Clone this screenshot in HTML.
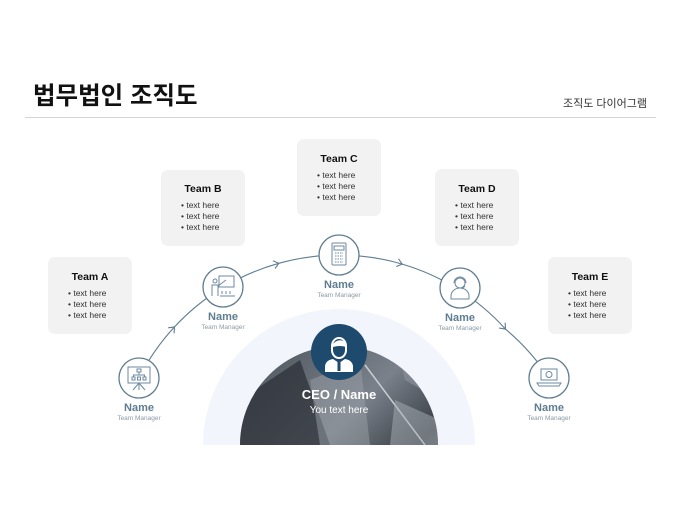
<!DOCTYPE html>
<html><head><meta charset="utf-8"><style>
html,body{margin:0;padding:0;background:#fff;width:680px;height:510px;overflow:hidden;}
svg{display:block;font-family:"Liberation Sans","Noto Sans CJK KR",sans-serif;}
</style></head><body>
<svg width="680" height="510" viewBox="0 0 680 510" xmlns="http://www.w3.org/2000/svg">
<defs>
<marker id="ar" markerWidth="10" markerHeight="10" refX="6" refY="5" orient="auto" markerUnits="userSpaceOnUse">
<path d="M1,1 L6,5 L1,9" fill="none" stroke="#5f7d91" stroke-width="1.1"/>
</marker>
<clipPath id="cb"><rect x="0" y="0" width="680" height="445"/></clipPath>
<clipPath id="pc"><circle cx="339" cy="445" r="99"/></clipPath>
<linearGradient id="ph" x1="0" y1="0" x2="1" y2="1">
<stop offset="0" stop-color="#4a5058"/><stop offset="0.45" stop-color="#7a818a"/><stop offset="0.7" stop-color="#3a3f46"/><stop offset="1" stop-color="#8a9098"/>
</linearGradient>
</defs>
<text x="33" y="104" font-size="24.5" font-weight="bold" fill="#111">법무법인 조직도</text>
<text x="647" y="107" font-size="11" fill="#333" text-anchor="end">조직도 다이어그램</text>
<rect x="25" y="117" width="631" height="1" fill="#d4d4d4"/>

<g clip-path="url(#cb)">
<circle cx="339" cy="445" r="136" fill="#f2f5fb"/>
<circle cx="339" cy="445" r="99" fill="url(#ph)"/>
<g clip-path="url(#pc)">
<path d="M240 400 L300 360 L330 445 L240 445 Z" fill="#2a2e34" opacity="0.7"/>
<path d="M310 380 L360 360 L370 445 L320 445 Z" fill="#9aa0a8" opacity="0.5"/>
<path d="M365 365 L425 445" stroke="#c9ced4" stroke-width="1.5"/>
<path d="M395 400 L440 420 L440 445 L390 445 Z" fill="#aab0b7" opacity="0.5"/>
<path d="M400 360 L440 380 L440 400 L405 380 Z" fill="#8d949c" opacity="0.6"/>
</g>
</g>

<path d="M139,378 A224,224 0 0 1 174.5,326.9" fill="none" stroke="#5f7d91" stroke-width="1.1" marker-end="url(#ar)"/>
<path d="M174.5,326.9 A224,224 0 0 1 278.8,263.3" fill="none" stroke="#5f7d91" stroke-width="1.1" marker-end="url(#ar)"/>
<path d="M278.8,263.3 A224,224 0 0 1 402.2,264.1" fill="none" stroke="#5f7d91" stroke-width="1.1" marker-end="url(#ar)"/>
<path d="M402.2,264.1 A224,224 0 0 1 505.5,329.1" fill="none" stroke="#5f7d91" stroke-width="1.1" marker-end="url(#ar)"/>
<path d="M505.5,329.1 A224,224 0 0 1 549,378" fill="none" stroke="#5f7d91" stroke-width="1.1"/>

<g fill="#f2f2f2">
<rect x="48" y="257" width="84" height="77" rx="7"/>
<rect x="161" y="170" width="84" height="76" rx="7"/>
<rect x="297" y="139" width="84" height="77" rx="7"/>
<rect x="435" y="169" width="84" height="77" rx="7"/>
<rect x="548" y="257" width="84" height="77" rx="7"/>
</g>
<g font-size="10.5" font-weight="bold" fill="#111" text-anchor="middle">
<text x="90" y="280">Team A</text>
<text x="203" y="192">Team B</text>
<text x="339" y="162">Team C</text>
<text x="477" y="192">Team D</text>
<text x="590" y="280">Team E</text>
</g>
<g font-size="8.5" fill="#333">
<text x="68" y="296">•  text here</text><text x="68" y="307">•  text here</text><text x="68" y="318">•  text here</text>
<text x="181" y="208">•  text here</text><text x="181" y="219">•  text here</text><text x="181" y="230">•  text here</text>
<text x="317" y="178">•  text here</text><text x="317" y="189">•  text here</text><text x="317" y="200">•  text here</text>
<text x="455" y="208">•  text here</text><text x="455" y="219">•  text here</text><text x="455" y="230">•  text here</text>
<text x="568" y="296">•  text here</text><text x="568" y="307">•  text here</text><text x="568" y="318">•  text here</text>
</g>

<g fill="#fff" stroke="#5f7d91" stroke-width="1.3">
<circle cx="139" cy="378" r="20"/>
<circle cx="223" cy="287" r="20"/>
<circle cx="339" cy="255" r="20"/>
<circle cx="460" cy="288" r="20"/>
<circle cx="549" cy="378" r="20"/>
</g>
<g fill="none" stroke="#6b8aa0" stroke-width="1">
<rect x="128" y="367" width="22" height="16"/><line x1="139" y1="383" x2="133" y2="390"/><line x1="139" y1="383" x2="145" y2="390"/><line x1="139" y1="383" x2="139" y2="390"/>
<rect x="137" y="369" width="4" height="3"/><rect x="132" y="377" width="3" height="3"/><rect x="137.5" y="377" width="3" height="3"/><rect x="143" y="377" width="3" height="3"/><path d="M139 372 V375 M133.5 377 V375 H144.5 V377"/>
<rect x="219" y="276" width="15" height="11"/><circle cx="215" cy="281" r="2"/><path d="M212 296 V285 H218 V296 M218 286 L226 280"/><path d="M220 296 h15 M222 294 v-3 M226 294 v-3 M230 294 v-3"/>
<rect x="332" y="243" width="14" height="22" rx="1"/><rect x="334" y="246" width="10" height="4"/><path d="M335 253h8M335 256h8M335 259h8M335 262h8" stroke-dasharray="1.5 1"/>
<circle cx="460" cy="283" r="5"/><path d="M451 299 V296 A9 8 0 0 1 469 296 V299 Z"/><path d="M454 283 A6 6 0 0 1 466 283 M465 286 L462 289"/>
<rect x="541" y="369" width="16" height="11"/><path d="M537 383 H561 L559 386 H539 Z"/><circle cx="549" cy="374.5" r="3"/>
</g>

<circle cx="339" cy="352" r="28" fill="#1e4a6e"/>
<g fill="#fff">
<path d="M332 346 A7 8 0 0 1 346 346 L346 350 A7 8 0 0 1 332 350 Z" fill="none" stroke="#fff" stroke-width="2"/>
<path d="M333 344 Q339 337 346 343 L346 347 Q340 345 333 347 Z"/>
<path d="M325 372 V366 Q326 360 333 359 L339 363 L345 359 Q352 360 353 366 V372 Z"/>
<rect x="337.5" y="362" width="3" height="9" fill="#1e4a6e"/>
</g>

<g text-anchor="middle">
<text x="339" y="399" font-size="13" font-weight="bold" fill="#fff">CEO / Name</text>
<text x="339" y="413" font-size="10" fill="#fff">You text here</text>
</g>
<g text-anchor="middle" fill="#5f7d91">
<text x="139" y="411" font-size="11" font-weight="bold">Name</text><text x="139" y="420" font-size="6.5" fill="#8a9aa6">Team Manager</text>
<text x="223" y="320" font-size="11" font-weight="bold">Name</text><text x="223" y="329" font-size="6.5" fill="#8a9aa6">Team Manager</text>
<text x="339" y="288" font-size="11" font-weight="bold">Name</text><text x="339" y="297" font-size="6.5" fill="#8a9aa6">Team Manager</text>
<text x="460" y="321" font-size="11" font-weight="bold">Name</text><text x="460" y="330" font-size="6.5" fill="#8a9aa6">Team Manager</text>
<text x="549" y="411" font-size="11" font-weight="bold">Name</text><text x="549" y="420" font-size="6.5" fill="#8a9aa6">Team Manager</text>
</g>
</svg>
</body></html>
